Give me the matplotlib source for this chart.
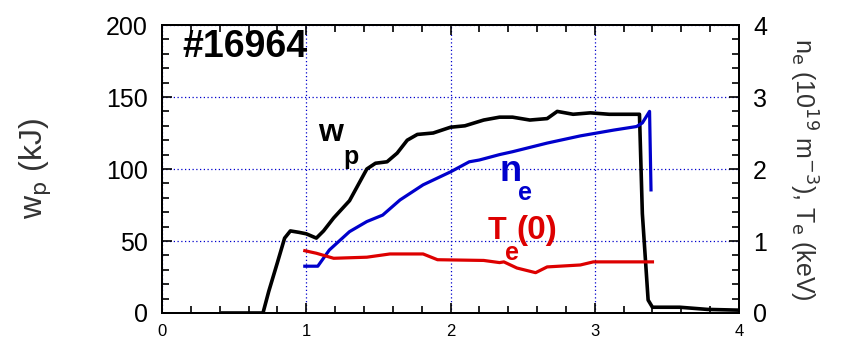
import matplotlib.pyplot as plt
from matplotlib.ticker import MultipleLocator

plt.rcParams['font.family'] = ['Liberation Sans', 'DejaVu Sans']

# stored energy (kJ)
t_wp = [0.42, 0.70, 0.74, 0.80, 0.85, 0.89, 0.95, 1.00, 1.07, 1.12, 1.19, 1.30,
        1.42, 1.48, 1.56, 1.63, 1.70, 1.77, 1.88, 2.00, 2.10, 2.23, 2.34, 2.43,
        2.55, 2.67, 2.74, 2.85, 2.97, 3.10, 3.29, 3.31, 3.33, 3.37, 3.40, 3.59,
        3.78, 3.99]
wp = [0, 0, 15, 35, 52, 57, 56, 55, 52, 57, 66, 78,
      100, 104, 105, 111, 120, 124, 125, 129, 130, 134, 136, 136,
      134, 135, 140, 138, 139, 138, 138, 138, 69, 9, 4, 4,
      2.5, 2]

# line-averaged density (1e19 m^-3)
t_ne = [0.99, 1.08, 1.16, 1.30, 1.42, 1.53, 1.65, 1.81, 2.00, 2.13, 2.20, 2.34,
        2.43, 2.67, 2.90, 3.13, 3.29, 3.33, 3.38, 3.39]
ne = [0.65, 0.65, 0.875, 1.13, 1.27, 1.36, 1.57, 1.78, 1.96, 2.10, 2.125, 2.20,
      2.24, 2.36, 2.46, 2.54, 2.59, 2.64, 2.80, 1.71]

# central electron temperature (keV)
t_te = [0.99, 1.07, 1.19, 1.42, 1.58, 1.81, 1.91, 2.23, 2.34, 2.37, 2.46, 2.59,
        2.67, 2.90, 2.99, 3.40]
te = [0.865, 0.83, 0.76, 0.775, 0.82, 0.82, 0.74, 0.73, 0.70, 0.71, 0.625, 0.56,
      0.64, 0.667, 0.71, 0.71]

fig = plt.figure(figsize=(8.41, 3.45), dpi=100)
ax = fig.add_axes([162/841, 1 - 313/345, (739-162)/841, (313-25)/345])
ax2 = ax.twinx()

ax.plot(t_wp, wp, color='black', lw=2.6, zorder=5)
ax2.plot(t_ne, ne, color='#0000cc', lw=2.3)
ax2.plot(t_te, te, color='#dd0000', lw=2.3)

ax.set_xlim(0, 4)
ax.set_ylim(0, 200)
ax2.set_ylim(0, 4)
ax.xaxis.set_major_locator(MultipleLocator(1))
ax.xaxis.set_minor_locator(MultipleLocator(0.2))
ax.yaxis.set_major_locator(MultipleLocator(50))
ax.yaxis.set_minor_locator(MultipleLocator(10))
ax2.yaxis.set_major_locator(MultipleLocator(1))
ax2.yaxis.set_minor_locator(MultipleLocator(0.2))

ax.grid(True, which='major', color='#0000cc', linestyle=(0, (1, 2)), lw=0.9)
ax.set_axisbelow(True)

ax.tick_params(which='both', direction='in', top=True, width=1.2)
ax.tick_params(which='major', length=7)
ax.tick_params(which='minor', length=5)
ax.tick_params(axis='x', labelsize=12, pad=8)
ax.tick_params(axis='y', labelsize=18, pad=10)
ax2.tick_params(which='both', direction='in', width=1.2)
ax2.tick_params(which='major', length=7, labelsize=18, pad=10)
ax2.tick_params(which='minor', length=5)
for a in (ax, ax2):
    for s in a.spines.values():
        s.set_linewidth(1.4)

ax.set_ylabel(r'w$_{\rm p}$ (kJ)', fontsize=23, color='#333333', labelpad=38)
ax2.set_ylabel(r'n$_{\rm e}$ (10$^{19}$ m$^{-3}$), T$_{\rm e}$ (keV)',
               fontsize=18, color='#333333', rotation=270, labelpad=38)

ax.text(0.14, 185, '#16964', fontsize=27, fontweight='bold', va='center')
ax.text(1.08, 125, 'w', fontsize=23, fontweight='bold', va='center')
ax.text(1.255, 108, 'p', fontsize=18, fontweight='bold', va='center')
ax.text(2.34, 98, 'n', fontsize=26, fontweight='bold', color='#0000cc', va='center')
ax.text(2.47, 83, 'e', fontsize=18, fontweight='bold', color='#0000cc', va='center')
ax.text(2.26, 57, 'T', fontsize=22, fontweight='bold', color='#dd0000', va='center')
ax.text(2.38, 42, 'e', fontsize=18, fontweight='bold', color='#dd0000', va='center')
ax.text(2.46, 57, '(0)', fontsize=24, fontweight='bold', color='#dd0000', va='center')

fig.savefig('out.png', dpi=100)
